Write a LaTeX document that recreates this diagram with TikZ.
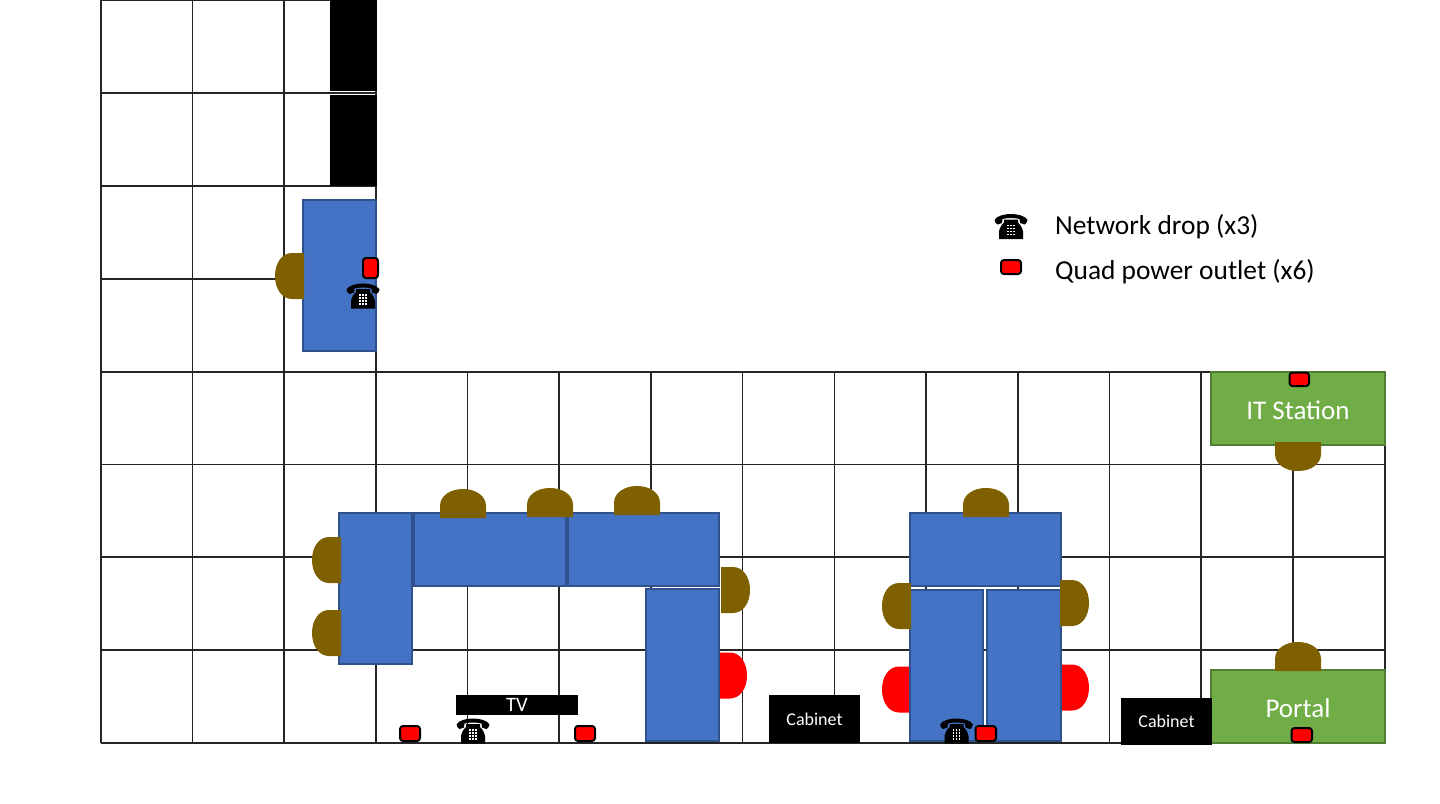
\documentclass[tikz,border=0pt]{standalone}
\usepackage{fontspec}
\setmainfont{Carlito}
\definecolor{deskblue}{HTML}{4472C4}
\definecolor{deskedge}{HTML}{2F528F}
\definecolor{itgreen}{HTML}{70AD47}
\definecolor{itedge}{HTML}{507E32}
\definecolor{chairbrown}{HTML}{7F6000}
\definecolor{gridline}{HTML}{262626}
\tikzset{
  gridrule/.style={draw=gridline,line width=1.4pt},
  desk/.style={draw=deskedge,fill=deskblue,line width=2pt},
  station/.style={draw=itedge,fill=itgreen,line width=2pt},
  blackbox/.style={fill=black},
  outlet/.style={draw=black,fill=red,line width=2pt,rounded corners=3pt},
  chair/.pic={\fill[pic actions] (-23,0) -- (-23,-12) .. controls (-23,-22) and (-13,-29) .. (0,-29) .. controls (13,-29) and (23,-22) .. (23,-12) -- (23,0) -- cycle;},
  phoneicon/.pic={
    \fill[black] (-16.5,-6.5) .. controls (-14,-11) and (-6,-12.5) .. (0,-12.5) .. controls (6,-12.5) and (14,-11) .. (16.5,-6.5) .. controls (16.5,-4.5) and (15,-3) .. (13.5,-2) -- (9,-3.5) -- (8.5,-7.5) .. controls (4,-8.8) and (-4,-8.8) .. (-8.5,-7.5) -- (-9,-3.5) -- (-13.5,-2) .. controls (-15,-3) and (-16.5,-4.5) .. (-16.5,-6.5) -- cycle;
    \fill[black] (-7,-7) -- (7,-7) -- (7,-4) .. controls (9.5,-2) and (11.5,2) .. (12,5) -- (12,12.5) -- (-12,12.5) -- (-12,5) .. controls (-11.5,2) and (-9.5,-2) .. (-7,-4) -- cycle;
    \foreach \px in {-3,0,3} \foreach \py in {-1,2,5,8} \fill[white] (\px-.7,\py-.7) rectangle (\px+.7,\py+.7);
  },
  label/.style={text=white,inner sep=0pt,anchor=center},
  legendtext/.style={text=black,inner sep=0pt,anchor=west,font=\fontsize{27.4}{32}\selectfont},
}
\begin{document}
\begin{tikzpicture}[x=1pt,y=-1pt]
\useasboundingbox (0,0) rectangle (1440,803);
% grid: upper part
\foreach \xx in {101,192.5,284,376} \draw[gridrule] (\xx,0) -- (\xx,372);
\foreach \yy in {0.5,93,186,279} \draw[gridrule] (101,\yy) -- (376,\yy);
% grid: lower part
\foreach \xx in {101,192.5,284,376,467.5,559,651,742.5,834.5,926,1018,1109.5,1201,1293,1385} \draw[gridrule] (\xx,372) -- (\xx,743);
\foreach \yy in {372,464.5,557,650,743} \draw[gridrule] (101,\yy) -- (1385,\yy);
% black wall pieces
\fill[blackbox] (330,0) rectangle (377,91);
\fill[blackbox] (330,95) rectangle (377,186);
% red chairs
\pic[rotate=-90,fill=red] at (718,675.5) {chair};
\pic[rotate=90,fill=red] at (911,689.5) {chair};
\pic[rotate=-90,fill=red] at (1060,687.5) {chair};
% desks
\draw[desk] (303,200) rectangle (376,351);
\draw[desk] (339,512.5) rectangle (412,664);
\draw[desk] (414,512.5) rectangle (566,585.5);
\draw[desk] (568,512.5) rectangle (719,585.5);
\draw[desk] (646,589) rectangle (719,741);
\draw[desk] (910,513) rectangle (1061,585.7);
\draw[desk] (910,590.3) rectangle (983,741);
\draw[desk] (987,590.3) rectangle (1061,741);
% green stations
\draw[station] (1211,372) rectangle (1385,445);
\draw[station] (1211,670) rectangle (1385,743);
\node[label,font=\fontsize{27}{32}\selectfont] (itstation) at (1298,410) {IT Station};
\node[label,font=\fontsize{27}{32}\selectfont] (portal) at (1298,708) {Portal};
% brown chairs
\pic[rotate=90,fill=chairbrown] at (304,276) {chair};
\pic[fill=chairbrown] at (463,518) {chair};
\pic[fill=chairbrown] at (550,517) {chair};
\pic[fill=chairbrown] at (637,515) {chair};
\pic[rotate=90,fill=chairbrown] at (341,560) {chair};
\pic[rotate=90,fill=chairbrown] at (341,633) {chair};
\pic[rotate=-90,fill=chairbrown] at (721,590) {chair};
\pic[fill=chairbrown] at (986,517) {chair};
\pic[rotate=90,fill=chairbrown] at (911,606) {chair};
\pic[rotate=-90,fill=chairbrown] at (1060,603) {chair};
\pic[rotate=180,fill=chairbrown] at (1298,442) {chair};
\pic[fill=chairbrown] at (1298,671) {chair};
% TV and cabinets
\node[blackbox,minimum width=122pt,minimum height=20pt,inner sep=0pt,text=white,font=\fontsize{20.5}{22}\selectfont] (tv) at (517,704.5) {TV};
\node[blackbox,minimum width=91pt,minimum height=48pt,inner sep=0pt,text=white,font=\fontsize{18}{20}\selectfont] (cabinetA) at (814.5,719) {Cabinet};
\node[blackbox,minimum width=91pt,minimum height=47pt,inner sep=0pt,text=white,font=\fontsize{18}{20}\selectfont] (cabinetB) at (1166.5,721.5) {Cabinet};
% outlets
\draw[outlet] (363,258) rectangle (378,278);
\draw[outlet] (400,726) rectangle (420,741);
\draw[outlet] (575,726) rectangle (595,741);
\draw[outlet] (975.5,726) rectangle (996,741);
\draw[outlet] (1289.5,372.5) rectangle (1309,386);
\draw[outlet] (1291.5,728) rectangle (1312,742);
\draw[outlet] (1001,260) rectangle (1021,274);
% phones
\pic at (363,296) {phoneicon};
\pic at (473,731) {phoneicon};
\pic at (956.5,731) {phoneicon};
\pic at (1011,226.5) {phoneicon};
% legend
\node[legendtext] (legendA) at (1055,226.5) {Network drop (x3)};
\node[legendtext] (legendB) at (1055,271.5) {Quad power outlet (x6)};
\end{tikzpicture}
\end{document}
